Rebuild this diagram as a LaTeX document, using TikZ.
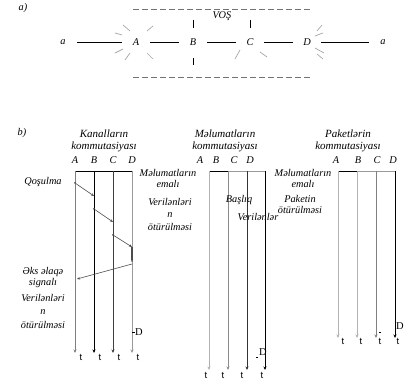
\documentclass[tikz,border=0pt]{standalone}
\usepackage{fontspec}
\setmainfont{Liberation Serif}
\setsansfont{Liberation Sans}
\usetikzlibrary{arrows.meta}
\tikzset{
  lbl/.style={font=\fontsize{10.3}{11}\selectfont\itshape, inner sep=0pt, align=center},
  big/.style={font=\fontsize{11}{11.5}\selectfont\itshape, inner sep=0pt, align=center},
  pt/.style={lbl, minimum width=28pt, minimum height=10pt},
  tl/.style={font=\fontsize{9.5}{9.5}\sffamily, inner sep=0pt},
  dl/.style={font=\fontsize{10.5}{10.5}\selectfont, inner sep=0pt},
  tim/.style={-{Stealth[length=3.5pt,width=3pt]}, line width=0.9pt},
  ray/.style={draw=black!35, line width=0.7pt},
  dsh/.style={draw=black!55, line width=0.8pt, dash pattern=on 6pt off 3pt},
  sig/.style={-{Stealth[length=3pt,width=2.5pt]}, draw=black!70, line width=0.6pt},
  dotp/.style={circle, fill=black!70, inner sep=0pt, minimum size=2pt}
}
\begin{document}
\begin{tikzpicture}[x=1pt,y=-1pt]
\useasboundingbox (0,0) rectangle (416,385);
% ---------- part a ----------
\node[lbl] (la) at (23,8) {a)};
\coordinate (dt1) at (133,9); \coordinate (dt2) at (312,9);
\coordinate (db1) at (133,77); \coordinate (db2) at (312,77);
\draw[dsh] (dt1) -- (dt2);
\draw[dsh] (db1) -- (db2);
\node[lbl] (vos) at (222,16) {VOŞ};
\node[pt] (a1) at (63,42) {a};
\node[pt] (A) at (136,42) {A};
\node[pt] (B) at (193,42) {B};
\node[pt] (C) at (250,42) {C};
\node[pt] (D) at (307,42) {D};
\node[pt] (a2) at (383,42) {a};
\draw[line width=0.7pt] (a1) -- (A) -- (B) -- (C) -- (D) -- (a2);
\coordinate (b1) at (193,20); \coordinate (b2) at (193,28);
\coordinate (b3) at (193,58); \coordinate (b4) at (193,65);
\coordinate (c1) at (250,20); \coordinate (c2) at (250,28);
\draw[line width=0.7pt] (b1) -- (b2) (b3) -- (b4) (c1) -- (c2);
% rays
\draw[ray] (130,31) -- (123,25) (122,35) -- (115,33) (123,49) -- (115,53) (130,53) -- (125,60)
           (147,31) -- (153,26) (147,53) -- (153,59);
\draw[ray] (240,50) -- (235,59) (260,52) -- (267,57);
\draw[ray] (317,31) -- (322,25) (315,36) -- (323,33) (315,48) -- (324,53) (317,54) -- (323,59);
% ---------- part b ----------
\node[lbl] (lb) at (22,133) {b)};
% left group
\node[big] (h1) at (104,141) {Kanalların\\kommutasiyası};
\node[lbl] (hA1) at (75,160) {A};
\node[lbl] (hB1) at (94,160) {B};
\node[lbl] (hC1) at (113,160) {C};
\node[lbl] (hD1) at (132,160) {D};
\coordinate (A1t) at (75,171); \coordinate (A1b) at (75,353);
\coordinate (B1t) at (94,171); \coordinate (B1b) at (94,353);
\coordinate (C1t) at (113,171); \coordinate (C1b) at (113,353);
\coordinate (D1t) at (132,171); \coordinate (D1b) at (132,353);
\draw[line width=0.8pt] (A1t) -- (D1t);
\draw[tim, draw=black!50] (A1t) -- (A1b);
\draw[tim, draw=black] (B1t) -- (B1b);
\draw[tim, draw=black!75] (C1t) -- (C1b);
\draw[tim, draw=black!40] (D1t) -- (D1b);
\node[dotp] (s1) at (75,183) {};
\node[dotp] (s2) at (94,209) {};
\node[dotp] (s3) at (113,235) {};
\node[dotp] (s4) at (132,261) {};
\coordinate (e1) at (94,196); \coordinate (e2) at (113,222); \coordinate (e3) at (132,247);
\coordinate (r1) at (132,264); \coordinate (r2) at (77,279);
\draw[sig] (s1) -- (e1);
\draw[sig] (s2) -- (e2);
\draw[sig] (s3) -- (e3);
\draw[line width=1.4pt, draw=black!70] (e3) -- (s4);
\draw[sig] (r1) -- (r2);
\node[lbl] (q1) at (43,182) {Qoşulma};
\node[lbl] (q2) at (43,278) {Əks əlaqə\\signalı};
\node[lbl, font=\fontsize{10.3}{13.5}\selectfont\itshape] (q3) at (43,311) {Verilənləri\\n\\ötürülməsi};
\node[dl] (dd1) at (139,332) {D};
\coordinate (dd1a) at (132,332); \coordinate (dd1b) at (135,332);
\draw[line width=0.5pt] (dd1a) -- (dd1b);
\node[tl] (t11) at (81,357) {t};
\node[tl] (t12) at (100,357) {t};
\node[tl] (t13) at (119,357) {t};
\node[tl] (t14) at (138,357) {t};
% middle group
\node[big] (h2) at (225,141) {Məlumatların\\kommutasiyası};
\node[lbl] (hA2) at (200,160) {A};
\node[lbl] (hB2) at (216,160) {B};
\node[lbl] (hC2) at (234,160) {C};
\node[lbl] (hD2) at (250,160) {D};
\coordinate (A2t) at (209,171); \coordinate (A2b) at (209,370);
\coordinate (B2t) at (228,171); \coordinate (B2b) at (228,370);
\coordinate (C2t) at (247,171); \coordinate (C2b) at (247,370);
\coordinate (D2t) at (265,171); \coordinate (D2b) at (265,370);
\draw[line width=0.8pt] (A2t) -- (B2t);
\draw[line width=0.8pt, draw=black!40] (B2t) -- (D2t);
\draw[tim, draw=black!30] (A2t) -- (A2b);
\draw[tim, draw=black!45] (B2t) -- (B2b);
\draw[tim, draw=black!80] (C2t) -- (C2b);
\draw[tim, draw=black] (D2t) -- (D2b);
\node[lbl] (m1) at (168,178) {Məlumatların\\emalı};
\node[lbl, font=\fontsize{10.3}{12.5}\selectfont\itshape] (m2) at (170,214) {Verilənləri\\n\\ötürülməsi};
\node[lbl] (m3) at (239,200) {Başlıq};
\node[lbl] (m4) at (258,217) {Verilənlər};
\node[dl] (dd2) at (263,352) {D};
\coordinate (dd2a) at (256,357); \coordinate (dd2b) at (258,357);
\draw[line width=0.5pt] (dd2a) -- (dd2b);
\node[tl] (t21) at (206,375) {t};
\node[tl] (t22) at (223,375) {t};
\node[tl] (t23) at (242,375) {t};
\node[tl] (t24) at (262,375) {t};
% right group
\node[big] (h3) at (348,141) {Paketlərin\\kommutasiyası};
\node[lbl] (hA3) at (336,160) {A};
\node[lbl] (hB3) at (358,160) {B};
\node[lbl] (hC3) at (377,160) {C};
\node[lbl] (hD3) at (393,160) {D};
\coordinate (A3t) at (338,171); \coordinate (A3b) at (338,338);
\coordinate (B3t) at (357,171); \coordinate (B3b) at (357,338);
\coordinate (C3t) at (376,171); \coordinate (C3b) at (376,338);
\coordinate (D3t) at (395,171); \coordinate (D3b) at (395,338);
\draw[line width=0.8pt] (A3t) -- (B3t);
\draw[line width=0.8pt, draw=black!40] (B3t) -- (D3t);
\draw[tim, draw=black!30] (A3t) -- (A3b);
\draw[tim, draw=black!30] (B3t) -- (B3b);
\draw[tim, draw=black!50] (C3t) -- (C3b);
\draw[tim, draw=black] (D3t) -- (D3b);
\node[lbl] (p1) at (303,178) {Məlumatların\\emalı};
\node[lbl] (p2) at (300,204) {Paketin\\ötürülməsi};
\node[dl] (dd3) at (400,326) {D};
\coordinate (dd3a) at (379,332); \coordinate (dd3b) at (381,332);
\draw[line width=0.5pt] (dd3a) -- (dd3b);
\node[tl] (t31) at (343,341) {t};
\node[tl] (t32) at (361,341) {t};
\node[tl] (t33) at (380,341) {t};
\node[tl] (t34) at (398,341) {t};
\end{tikzpicture}
\end{document}
